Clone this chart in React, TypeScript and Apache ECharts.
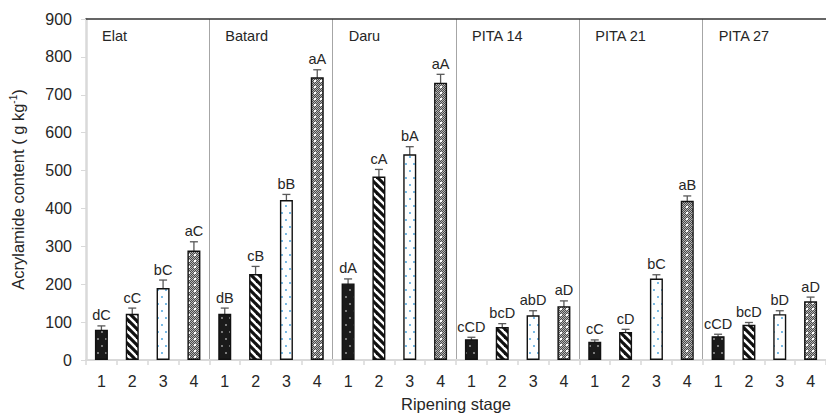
import React, { useEffect, useRef } from "react";
import * as echarts from "echarts";

const groups = ["Elat", "Batard", "Daru", "PITA 14", "PITA 21", "PITA 27"];
const stages = ["1", "2", "3", "4"];

// Mean acrylamide content per group, ripening stages 1-4
const elatValues = [80, 122, 190, 289];
const batardValues = [122, 227, 422, 746];
const daruValues = [202, 484, 543, 732];
const pita14Values = [55, 87, 118, 142];
const pita21Values = [48, 74, 215, 420];
const pita27Values = [63, 93, 121, 155];

// Error (± half-length of error bars)
const elatErrors = [10, 15, 21, 23];
const batardErrors = [15, 20, 15, 20];
const daruErrors = [12, 19, 20, 22];
const pita14Errors = [5, 9, 12, 14];
const pita21Errors = [5, 7, 10, 13];
const pita27Errors = [5, 6, 9, 11];

// Significance letters
const elatLetters = ["dC", "cC", "bC", "aC"];
const batardLetters = ["dB", "cB", "bB", "aA"];
const daruLetters = ["dA", "cA", "bA", "aA"];
const pita14Letters = ["cCD", "bcD", "abD", "aD"];
const pita21Letters = ["cC", "cD", "bC", "aB"];
const pita27Letters = ["cCD", "bcD", "bD", "aD"];

const yTicks = { min: 0, max: 900, interval: 100 };

const FONT = "'Liberation Sans', Arial, Helvetica, sans-serif";

function makePattern(kind: number): HTMLCanvasElement {
  const c = document.createElement("canvas");
  const ctx = c.getContext("2d")!;
  if (kind === 0) {
    c.width = 8;
    c.height = 14;
    ctx.fillStyle = "#1a1a1a";
    ctx.fillRect(0, 0, 8, 14);
    ctx.fillStyle = "#ffffff";
    ctx.beginPath();
    ctx.arc(2, 3, 0.8, 0, Math.PI * 2);
    ctx.arc(6, 10, 0.8, 0, Math.PI * 2);
    ctx.fill();
  } else if (kind === 1) {
    c.width = 8;
    c.height = 8;
    ctx.fillStyle = "#ffffff";
    ctx.fillRect(0, 0, 8, 8);
    ctx.strokeStyle = "#111111";
    ctx.lineWidth = 3.2;
    for (const k of [-8, 0, 8]) {
      ctx.beginPath();
      ctx.moveTo(k - 2, -2);
      ctx.lineTo(k + 10, 10);
      ctx.stroke();
    }
  } else if (kind === 2) {
    c.width = 8;
    c.height = 14;
    ctx.fillStyle = "#ffffff";
    ctx.fillRect(0, 0, 8, 14);
    ctx.fillStyle = "#3a9ad9";
    ctx.beginPath();
    ctx.arc(2, 3, 0.9, 0, Math.PI * 2);
    ctx.arc(6, 10, 0.9, 0, Math.PI * 2);
    ctx.fill();
  } else {
    c.width = 6;
    c.height = 6;
    ctx.fillStyle = "#4a4a4a";
    ctx.fillRect(0, 0, 6, 6);
    ctx.fillStyle = "#b5b5b5";
    for (let x = 0; x < 6; x++) {
      for (let y = 0; y < 6; y++) {
        if ((x + y) % 2 === 0) ctx.fillRect(x, y, 1, 1);
      }
    }
    ctx.fillStyle = "#ffffff";
    ctx.fillRect(2, 2, 2, 2);
  }
  return c;
}

export default function App() {
  const ref = useRef<HTMLDivElement>(null);

  useEffect(() => {
    if (!ref.current) return;
    const chart = echarts.init(ref.current, undefined, { renderer: "svg" });

    const allValues = [elatValues, batardValues, daruValues, pita14Values, pita21Values, pita27Values];
    const allErrors = [elatErrors, batardErrors, daruErrors, pita14Errors, pita21Errors, pita27Errors];
    const allLetters = [elatLetters, batardLetters, daruLetters, pita14Letters, pita21Letters, pita27Letters];

    const patterns = stages.map((_, i) => ({ image: makePattern(i), repeat: "repeat" as const }));

    const categories: string[] = [];
    const barData: any[] = [];
    const errData: number[][] = [];
    const letters: string[] = [];
    allValues.forEach((vals, g) => {
      vals.forEach((v, s) => {
        const idx = categories.length;
        categories.push(stages[s]);
        barData.push({
          value: v,
          itemStyle: { color: patterns[s], borderColor: "#111111", borderWidth: 1.4 },
        });
        errData.push([idx, v, allErrors[g][s]]);
        letters.push(allLetters[g][s]);
      });
    });
    const groupData = groups.map((_, g) => [g * stages.length, yTicks.max]);

    chart.setOption({
      animation: false,
      grid: { left: 86, top: 19, width: 749, height: 344, containLabel: false },
      xAxis: [
        {
          type: "category",
          data: categories,
          position: "bottom",
          axisLine: { lineStyle: { color: "#d9d9d9", width: 2 } },
          axisTick: { show: true, interval: 0, length: 5, lineStyle: { color: "#d9d9d9", width: 1.5 } },
          axisLabel: { interval: 0, margin: 13, fontSize: 16, color: "#262626", fontFamily: FONT },
          splitLine: {
            show: true,
            interval: (i: number) => i > 0 && i % 4 === 0,
            lineStyle: { color: "#a6a6a6", width: 1 },
          },
          name: "Ripening stage",
          nameLocation: "middle",
          nameGap: 35,
          nameTextStyle: { fontSize: 16.5, color: "#262626", fontFamily: FONT },
        },
        {
          type: "category",
          data: categories,
          position: "top",
          axisLine: { lineStyle: { color: "#333333", width: 1.5 } },
          axisTick: { show: false },
          axisLabel: { show: false },
          splitLine: { show: false },
        },
      ],
      yAxis: {
        type: "value",
        min: yTicks.min,
        max: yTicks.max,
        interval: yTicks.interval,
        axisLine: { show: true, lineStyle: { color: "#d9d9d9", width: 2.5 } },
        axisTick: { show: true, length: 5, lineStyle: { color: "#d9d9d9", width: 1 } },
        axisLabel: { margin: 14, fontSize: 16, color: "#262626", fontFamily: FONT },
        splitLine: { show: false },
        name: "{a|Acrylamide content ( g kg}{s|-1}{a|)}",
        nameLocation: "middle",
        nameGap: 59,
        nameTextStyle: {
          rich: {
            a: { fontSize: 16.5, color: "#262626", fontFamily: FONT, lineHeight: 19 },
            s: { fontSize: 10, color: "#262626", fontFamily: FONT, verticalAlign: "top", lineHeight: 19, padding: [0, 0, 6, 0] },
          },
        },
      },
      series: [
        {
          type: "bar",
          data: barData,
          barWidth: 13,
          xAxisIndex: 0,
        },
        {
          type: "custom",
          xAxisIndex: 0,
          clip: false,
          data: errData,
          renderItem: (params: any, api: any) => {
            const x = api.value(0);
            const y = api.value(1);
            const e = api.value(2);
            const top = api.coord([x, y + e]);
            const bot = api.coord([x, y - e]);
            const cx = top[0];
            const cap = 4;
            const ls = { stroke: "#595959", lineWidth: 1.3 };
            return {
              type: "group",
              children: [
                { type: "line", shape: { x1: cx, y1: top[1], x2: cx, y2: bot[1] }, style: ls },
                { type: "line", shape: { x1: cx - cap, y1: top[1], x2: cx + cap, y2: top[1] }, style: ls },
                { type: "line", shape: { x1: cx - cap, y1: bot[1], x2: cx + cap, y2: bot[1] }, style: ls },
                {
                  type: "text",
                  x: cx,
                  y: top[1] - 3,
                  style: {
                    text: letters[params.dataIndex],
                    align: "center",
                    verticalAlign: "bottom",
                    fontSize: 14.5,
                    fontFamily: FONT,
                    fill: "#262626",
                  },
                },
              ],
            };
          },
        },
        {
          type: "custom",
          xAxisIndex: 0,
          clip: false,
          data: groupData,
          renderItem: (params: any, api: any) => {
            const p = api.coord([api.value(0), api.value(1)]);
            const w = api.size([1, 0])[0];
            return {
              type: "text",
              x: p[0] - w / 2 + 16,
              y: p[1] + 17,
              style: {
                text: groups[params.dataIndex],
                align: "left",
                verticalAlign: "middle",
                fontSize: 14.5,
                fontFamily: FONT,
                fill: "#262626",
              },
            };
          },
        },
      ],
    });

    return () => chart.dispose();
  }, []);

  return (
    <div
      ref={ref}
      style={{ position: "fixed", left: 0, top: 0, width: 826, height: 417, background: "#ffffff" }}
    />
  );
}
